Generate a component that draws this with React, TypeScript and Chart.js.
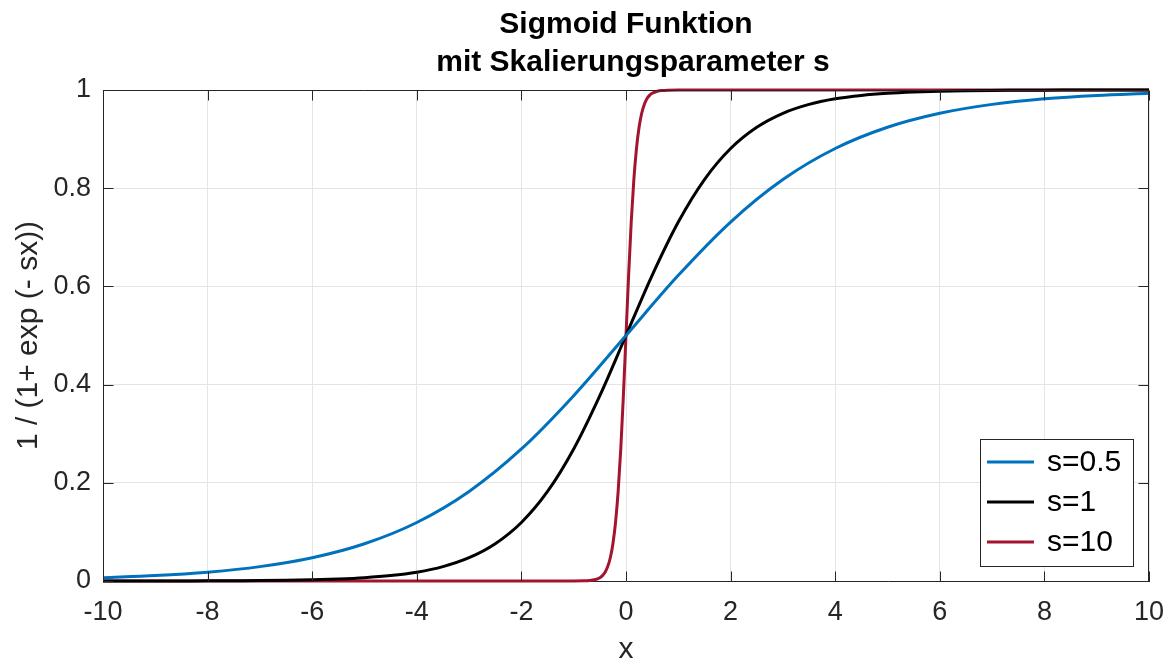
import React, { useEffect, useRef } from "react";
import { Chart, registerables } from "chart.js";

Chart.register(...registerables);

const FONT = '"Liberation Sans", Arial, Helvetica, sans-serif';
const AXIS_COLOR = "#262626";
const GRID_COLOR = "#e4e4e4";

const titleLines = ["Sigmoid Funktion", "mit Skalierungsparameter s"];
const xAxisLabel = "x";
const yAxisLabel = "1 / (1+ exp (- sx))";
const seriesLabels = ["s=0.5", "s=1", "s=10"];
const seriesColors = ["#0072BD", "#000000", "#A2142F"];

const xTickValues = [-10, -8, -6, -4, -2, 0, 2, 4, 6, 8, 10];
const yTickValues = [0, 0.2, 0.4, 0.6, 0.8, 1];

// s = 0.5
const xS05 = [-10, -9, -8, -7, -6, -5, -4, -3, -2, -1, 0, 1, 2, 3, 4, 5, 6, 7, 8, 9, 10];
const yS05 = [
  0.0067, 0.011, 0.018, 0.0293, 0.0474, 0.0759, 0.1192, 0.1824, 0.2689, 0.3775, 0.5,
  0.6225, 0.7311, 0.8176, 0.8808, 0.9241, 0.9526, 0.9707, 0.982, 0.989, 0.9933,
];

// s = 1
const xS1 = [
  -10, -9.5, -9, -8.5, -8, -7.5, -7, -6.5, -6, -5.5, -5, -4.5, -4, -3.5, -3, -2.5, -2, -1.5, -1, -0.5,
  0, 0.5, 1, 1.5, 2, 2.5, 3, 3.5, 4, 4.5, 5, 5.5, 6, 6.5, 7, 7.5, 8, 8.5, 9, 9.5, 10,
];
const yS1 = [
  0.0, 0.0001, 0.0001, 0.0002, 0.0003, 0.0006, 0.0009, 0.0015, 0.0025, 0.0041, 0.0067, 0.011, 0.018,
  0.0293, 0.0474, 0.0759, 0.1192, 0.1824, 0.2689, 0.3775, 0.5, 0.6225, 0.7311, 0.8176, 0.8808, 0.9241,
  0.9526, 0.9707, 0.982, 0.989, 0.9933, 0.9959, 0.9975, 0.9985, 0.9991, 0.9994, 0.9997, 0.9998, 0.9999,
  0.9999, 1.0,
];

// s = 10
const xS10 = [
  -10, -1, -0.8, -0.7, -0.6, -0.5, -0.45, -0.4, -0.35, -0.3, -0.25, -0.2, -0.15, -0.1, -0.05, 0,
  0.05, 0.1, 0.15, 0.2, 0.25, 0.3, 0.35, 0.4, 0.45, 0.5, 0.6, 0.7, 0.8, 1, 10,
];
const yS10 = [
  0.0, 0.0, 0.0003, 0.0009, 0.0025, 0.0067, 0.011, 0.018, 0.0293, 0.0474, 0.0759, 0.1192, 0.1824,
  0.2689, 0.3775, 0.5, 0.6225, 0.7311, 0.8176, 0.8808, 0.9241, 0.9526, 0.9707, 0.982, 0.989, 0.9933,
  0.9975, 0.9991, 0.9997, 1.0, 1.0,
];

const seriesX = [xS05, xS1, xS10];
const seriesY = [yS05, yS1, yS10];

const LINE_W = 3;

const framePlugin = {
  id: "matlabFrame",
  afterDraw(chart: any) {
    const { ctx, chartArea: a, scales } = chart;
    const xs = scales.x;
    const ys = scales.y;
    const L = Math.round(a.left) + 0.5;
    const R = Math.round(a.right) - 0.5;
    const T = Math.round(a.top) + 0.5;
    const B = Math.round(a.bottom) + 0.5;
    const tickLen = 10;
    ctx.save();
    ctx.strokeStyle = AXIS_COLOR;
    ctx.lineWidth = 1;
    ctx.beginPath();
    ctx.moveTo(L, T);
    ctx.lineTo(R, T);
    ctx.lineTo(R, B);
    ctx.stroke();
    ctx.beginPath();
    xTickValues.forEach((v) => {
      const px = Math.round(xs.getPixelForValue(v)) + 0.5;
      ctx.moveTo(px, B);
      ctx.lineTo(px, B - tickLen);
      ctx.moveTo(px, T);
      ctx.lineTo(px, T + tickLen);
    });
    yTickValues.forEach((v) => {
      const py = Math.round(ys.getPixelForValue(v)) + 0.5;
      ctx.moveTo(L, py);
      ctx.lineTo(L + tickLen, py);
      ctx.moveTo(R, py);
      ctx.lineTo(R - tickLen, py);
    });
    ctx.stroke();

    // title
    ctx.fillStyle = "#000000";
    ctx.font = `bold 30px ${FONT}`;
    ctx.textAlign = "center";
    ctx.textBaseline = "alphabetic";
    ctx.fillText(titleLines[0], 626, 33);
    ctx.fillText(titleLines[1], 633, 71);

    // legend
    const bx = 980.5, by = 439.5, bw = 153, bh = 127;
    ctx.fillStyle = "#ffffff";
    ctx.fillRect(bx, by, bw, bh);
    ctx.strokeStyle = AXIS_COLOR;
    ctx.lineWidth = 1;
    ctx.strokeRect(bx, by, bw, bh);
    const rows = [462, 502, 542];
    ctx.font = `30px ${FONT}`;
    ctx.textAlign = "left";
    ctx.textBaseline = "middle";
    seriesLabels.forEach((lab, i) => {
      ctx.strokeStyle = seriesColors[i];
      ctx.lineWidth = LINE_W;
      ctx.beginPath();
      ctx.moveTo(987, rows[i]);
      ctx.lineTo(1034, rows[i]);
      ctx.stroke();
      ctx.fillStyle = "#000000";
      ctx.fillText(lab, 1047, rows[i] + 1);
    });
    ctx.restore();
  },
};

export default function App() {
  const canvasRef = useRef<HTMLCanvasElement | null>(null);

  useEffect(() => {
    const canvas = canvasRef.current;
    if (!canvas) return;
    const datasets = seriesLabels.map((lab, i) => ({
      label: lab,
      data: seriesX[i].map((x, j) => ({ x, y: seriesY[i][j] })),
      borderColor: seriesColors[i],
      backgroundColor: seriesColors[i],
      borderWidth: LINE_W,
      pointRadius: 0,
      pointHoverRadius: 0,
      fill: false,
      cubicInterpolationMode: "monotone" as const,
      clip: false as any,
    }));
    const chart = new Chart(canvas, {
      type: "line",
      data: { datasets },
      plugins: [framePlugin],
      options: {
        animation: false,
        responsive: false,
        devicePixelRatio: 1,
        events: [],
        layout: { padding: { left: 0, right: 18, top: 90, bottom: 0 } },
        plugins: {
          legend: { display: false },
          title: { display: false },
          tooltip: { enabled: false },
        },
        scales: {
          x: {
            type: "linear",
            min: -10,
            max: 10,
            afterFit: (scale: any) => {
              scale.height = 80;
              scale.paddingLeft = 0;
              scale.paddingRight = 0;
            },
            afterBuildTicks: (scale: any) => {
              scale.ticks = xTickValues.map((v) => ({ value: v }));
            },
            ticks: {
              autoSkip: false,
              maxRotation: 0,
              minRotation: 0,
              padding: 15,
              color: AXIS_COLOR,
              font: { family: FONT, size: 27 },
              callback: (v: any) => String(v),
            },
            grid: { color: GRID_COLOR, lineWidth: 1, drawTicks: false },
            border: { color: AXIS_COLOR, width: 1 },
            title: {
              display: true,
              text: xAxisLabel,
              color: AXIS_COLOR,
              font: { family: FONT, size: 30, lineHeight: 1.2 },
              padding: { top: 0, bottom: -6.5 },
            },
          },
          y: {
            type: "linear",
            min: 0,
            max: 1,
            afterFit: (scale: any) => {
              scale.width = 103;
              scale.paddingTop = 0;
              scale.paddingBottom = 0;
            },
            afterBuildTicks: (scale: any) => {
              scale.ticks = yTickValues.map((v) => ({ value: v }));
            },
            ticks: {
              autoSkip: false,
              padding: 12,
              color: AXIS_COLOR,
              font: { family: FONT, size: 27 },
              callback: (v: any) => String(Math.round(Number(v) * 10) / 10),
            },
            grid: { color: GRID_COLOR, lineWidth: 1, drawTicks: false },
            border: { color: AXIS_COLOR, width: 1 },
            title: {
              display: true,
              text: yAxisLabel,
              color: AXIS_COLOR,
              font: { family: FONT, size: 30, lineHeight: 1.2 },
              padding: { top: 10.5, bottom: 0 },
            },
          },
        },
      },
    });
    return () => chart.destroy();
  }, []);

  return (
    <div style={{ position: "fixed", left: 0, top: 0, width: 1167, height: 661, background: "#ffffff" }}>
      <canvas ref={canvasRef} width={1167} height={661} style={{ display: "block", width: 1167, height: 661 }} />
    </div>
  );
}
